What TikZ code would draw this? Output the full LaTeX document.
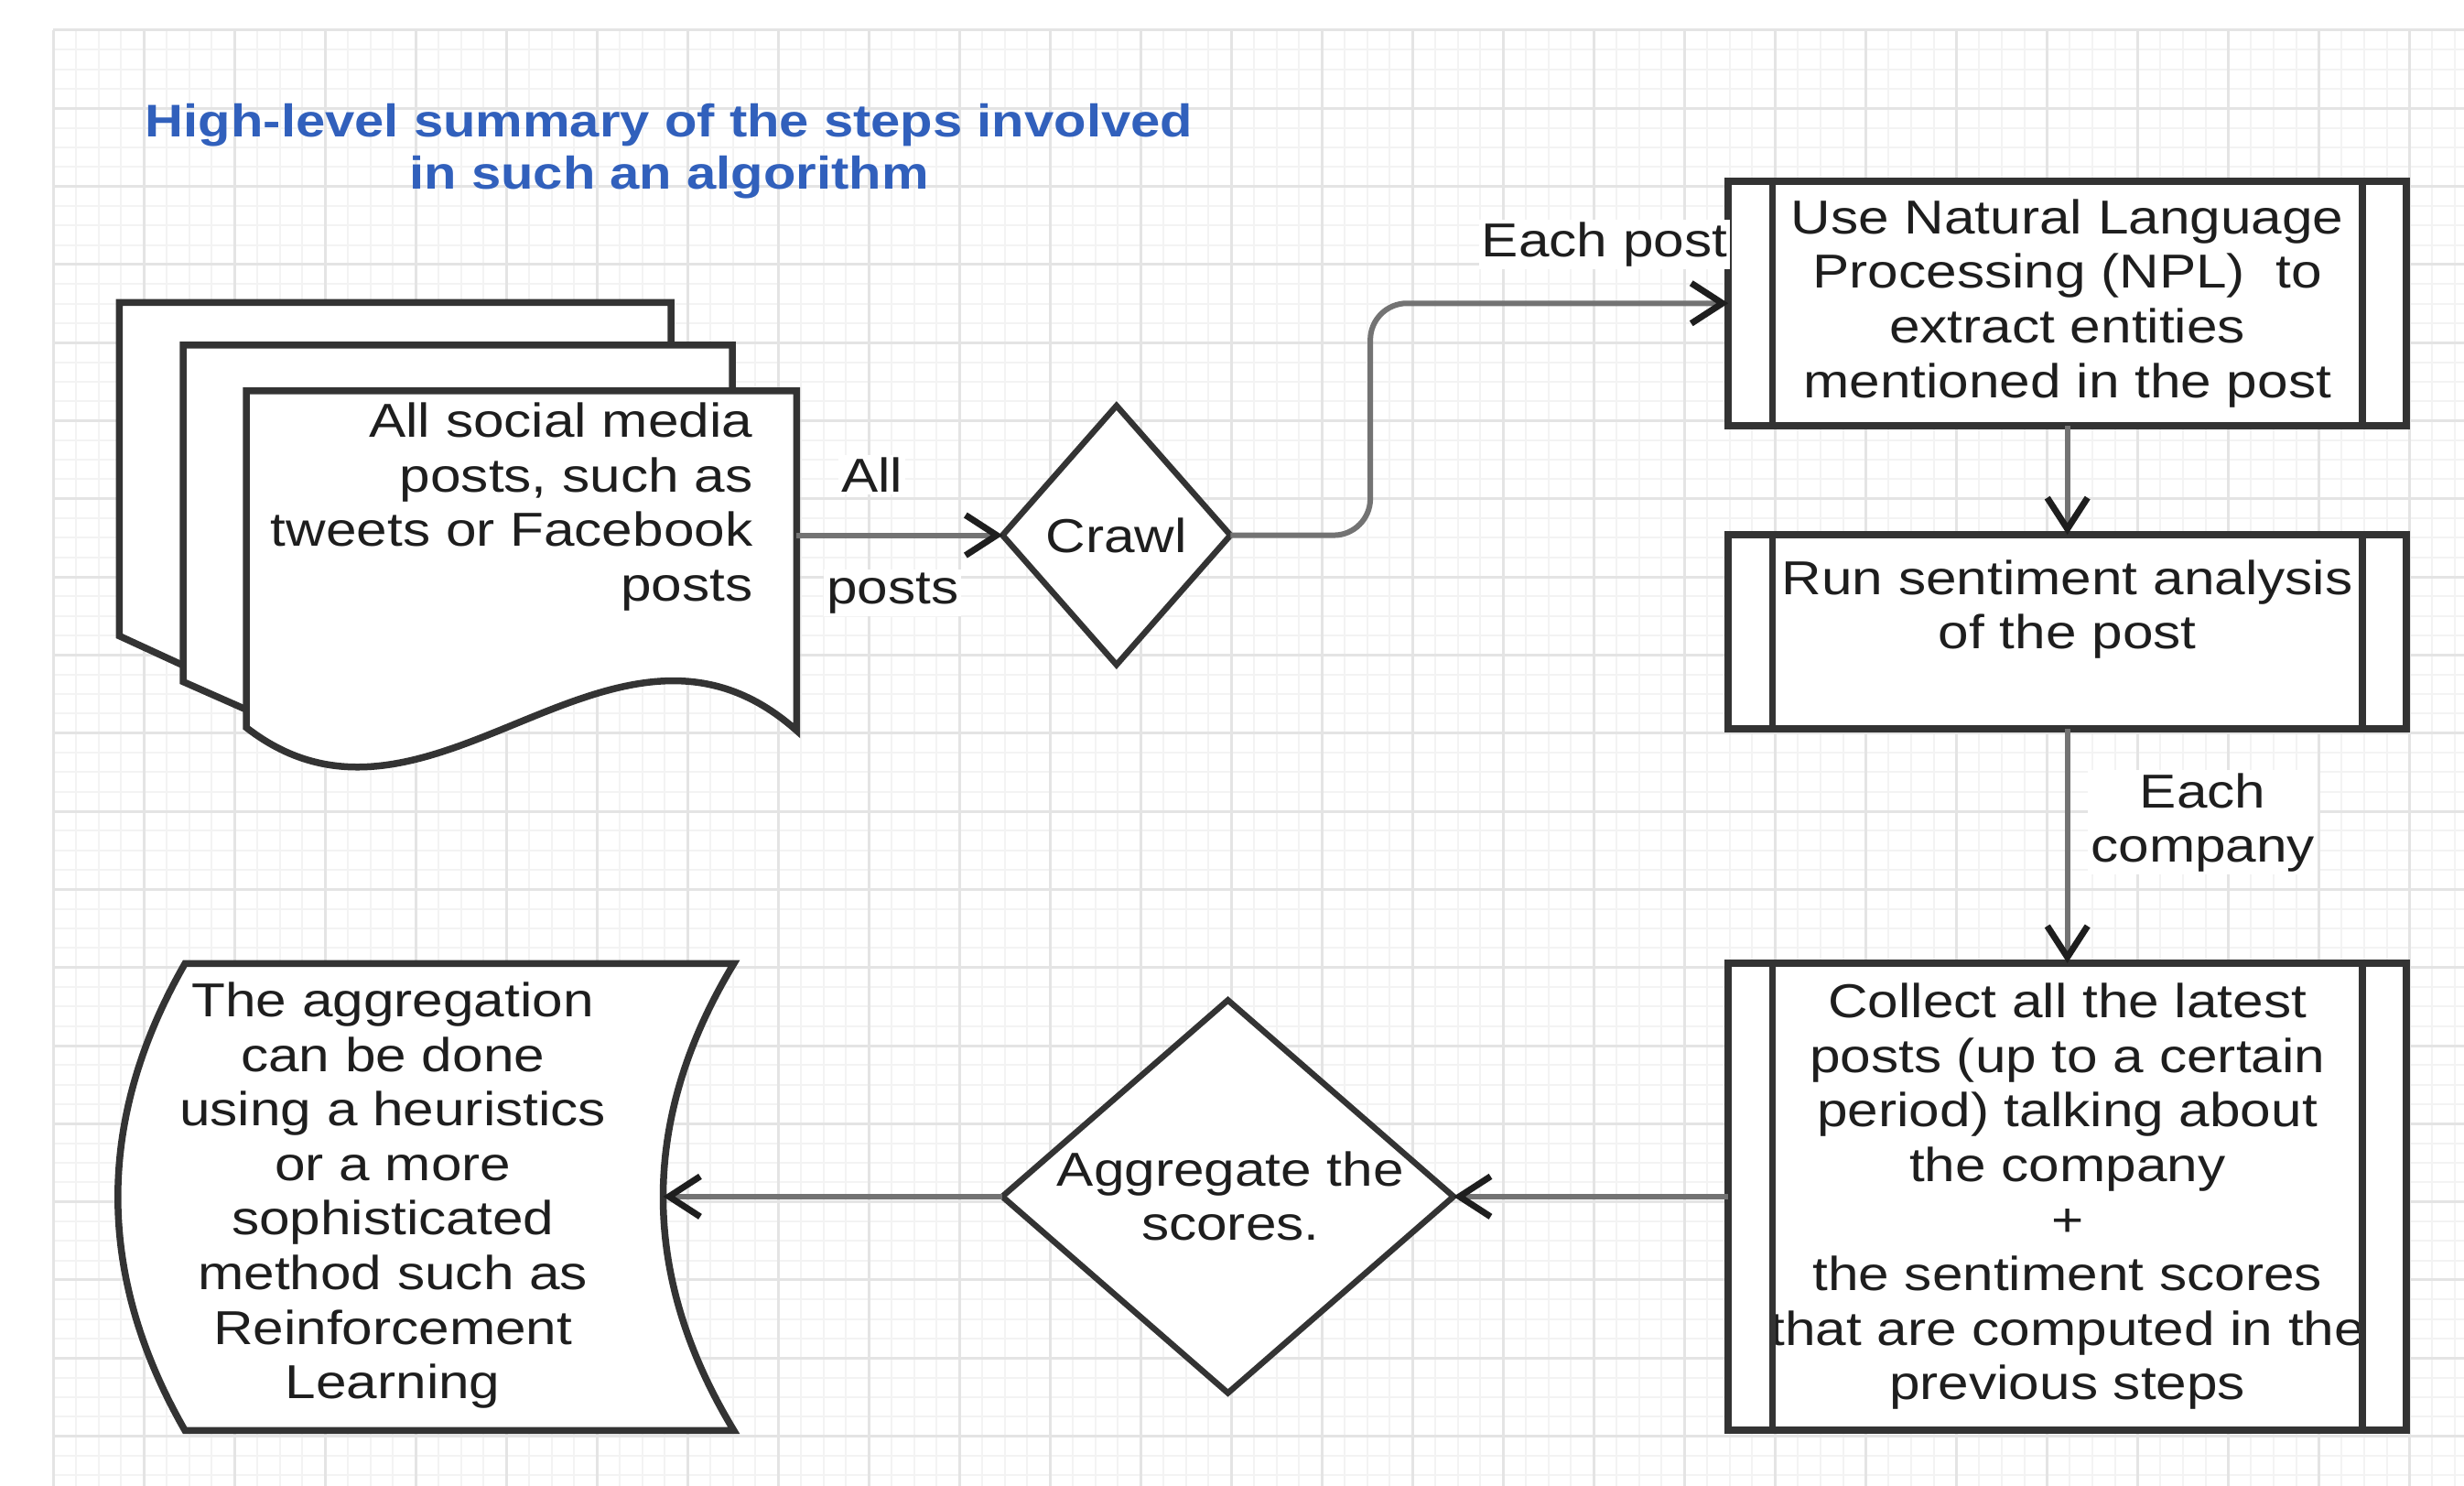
\documentclass[tikz,border=0pt]{standalone}
\usepackage{fontspec}
\setmainfont{Liberation Sans}[FakeStretch=1.16]
\usetikzlibrary{shapes.geometric,arrows.meta,calc}
\definecolor{gridmajor}{HTML}{E4E4E4}
\definecolor{gridminor}{HTML}{F3F3F3}
\definecolor{border}{HTML}{333333}
\definecolor{connc}{HTML}{737373}
\definecolor{tipc}{HTML}{1E1E1E}
\definecolor{txt}{HTML}{1E1E1E}
\definecolor{titleblue}{HTML}{3160BC}
\begin{document}
\begin{tikzpicture}[x=1.7168pt,y=-1.7168pt,
  every node/.style={text=txt, font=\fontsize{52}{59.6}\selectfont, inner sep=0pt, outer sep=0pt},
  shapeline/.style={draw=border, line width=7.5pt, fill=white, line join=miter},
  procbox/.style={shapeline, rectangle, minimum width=741pt, align=center},
  decision/.style={draw=border, line width=6.5pt, fill=white, shape=diamond, inner sep=0pt},
  conn/.style={draw=connc, line width=6pt, -{Straight Barb[length=34pt,width=44pt,line width=7pt,color=tipc]}},
  lbl/.style={fill=white, inner sep=3pt, align=center},
  innerline/.style={draw=border, line width=7.5pt},
]
\useasboundingbox (0,0) rectangle (1568,945);
\fill[white] (0,0) rectangle (1568,945);
% grid
\begin{scope}
\clip (32.5,17.8) rectangle (1568,945);
\foreach \i in {0,...,106} \draw[gridminor, line width=2pt] ({33.8+\i*14.4175},19.2) -- ++(0,926);
\foreach \j in {0,...,74} \draw[gridminor, line width=2pt] (33.8,{19.2+\j*12.4225}) -- ++(1535,0);
\foreach \i in {0,...,26} \draw[gridmajor, line width=3pt] ({33.8+\i*57.67},19.2) -- ++(0,926);
\foreach \j in {0,...,18} \draw[gridmajor, line width=3pt] (33.8,{19.2+\j*49.69}) -- ++(1535,0);
\end{scope}

% title
\node[font=\fontsize{50}{57}\selectfont\bfseries, text=titleblue, align=center] (title) at (425.8,96.5) {High-level summary of the steps involved\\in such an algorithm};

% document stack
\path[shapeline] (116.6,423.3) -- (76,404.6) -- (76,192.4) -- (427,192.4) -- (427,219.5);
\path[shapeline] (156.7,451.4) -- (116.6,433.7) -- (116.6,219.5) -- (466,219.5) -- (466,248.6);
\path[shapeline] (156.7,248.6) -- (507,248.6) -- (507,464.8) .. controls (390.2,360.8) and (273.5,553.8) .. (156.7,462.8) -- cycle;
\node[align=right, anchor=east] (doctext) at (479,322.5) {All social media\\posts, such as\\tweets or Facebook\\posts};
\coordinate (docout) at (507,340.5);

% crawl
\node[decision, minimum width=249pt, minimum height=283pt] (crawl) at (710.5,340.5) {Crawl};

% process boxes
\node[procbox, minimum height=267pt] (nlp) at (1315.6,192.95) {Use Natural Language\\Processing (NPL)~ to\\extract entities\\mentioned in the post};
\node[procbox, minimum height=212pt] (sent) at (1315.6,401.95) {Run sentiment analysis\\of the post\\\mbox{}};
\node[procbox, minimum height=510pt] (coll) at (1315.6,761.2) {Collect all the latest\\posts (up to a certain\\period) talking about\\the company\\+\\the sentiment scores\\that are computed in the\\previous steps};
\foreach \n in {nlp,sent,coll} {
  \draw[innerline] ([xshift=48.4pt]\n.north west) -- ([xshift=48.4pt]\n.south west);
  \draw[innerline] ([xshift=-48.4pt]\n.north east) -- ([xshift=-48.4pt]\n.south east);
}

% aggregate
\node[decision, minimum width=493pt, minimum height=429pt] (agg) at (781.4,761.2) {};
\node[align=center] (aggtext) at (783,761) {Aggregate the\\scores.};

% stored data
\path[shapeline] (117.7,613) -- (467,613) .. controls (407,712) and (407,811) .. (467,910) -- (117.7,910) .. controls (60.8,811) and (60.8,712) .. (117.7,613) -- cycle;
\node[align=center] (store) at (250,760.5) {The aggregation\\can be done\\using a heuristics\\or a more\\sophisticated\\method such as\\Reinforcement\\Learning};
\coordinate (storein) at (422,761.2);

% connectors
\draw[conn] (docout) -- (crawl.west) node[lbl, pos=0.366, yshift=66pt] (lblall) {All} node[lbl, pos=0.466, yshift=-63pt] (lblposts) {posts};
\draw[conn, rounded corners=40pt] (crawl.east) -- ++(89,0) |- (nlp.west);
\node[lbl, anchor=east] (eachpost) at ([xshift=2pt,yshift=64pt]nlp.west) {Each post};
\draw[conn] (nlp.south) -- (sent.north);
\draw[conn] (sent.south) -- (coll.north) node[lbl, pos=0.4, xshift=148pt] (eachcomp) {Each\\company};
\draw[conn] (coll.west) -- (agg.east);
\draw[conn] (agg.west) -- (storein);
\end{tikzpicture}
\end{document}
